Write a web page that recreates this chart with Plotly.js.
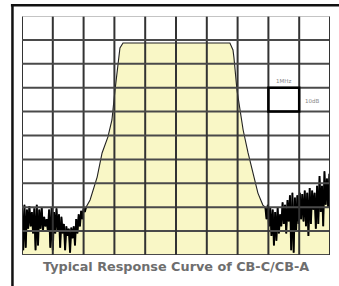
<!DOCTYPE html>
<html>
<head>
<meta charset="utf-8">
<script src="https://cdn.plot.ly/plotly-3.0.1.min.js"></script>
<style>html,body{margin:0;padding:0;background:#fff;}#chart{width:339px;height:286px;}</style>
</head>
<body>
<div id="chart"></div>
<script>
// Frequency in grid divisions (0..10), response in grid divisions (0..10, 10 dB/div)
var leftNoiseX = [0.00,0.04,0.08,0.12,0.16,0.20,0.24,0.28,0.32,0.36,0.40,0.44,0.48,0.52,0.56,0.60,0.64,0.68,0.72,0.76,0.80,0.84,0.88,0.92,0.96,1.00,1.04,1.08,1.12,1.16,1.20,1.24,1.28,1.32,1.36,1.40,1.44,1.48,1.52,1.56,1.60,1.64,1.68,1.72,1.76,1.80,1.84,1.88,1.92,1.96,2.00,2.04,2.08];
var leftNoiseY = [2.0,0.2,2.1,0.3,1.9,1.1,2.05,1.2,1.8,0.9,1.95,0.2,2.1,0.4,1.9,1.1,2.0,1.0,1.6,1.2,1.5,1.0,1.9,0.3,2.0,0.2,1.8,0.9,1.95,1.0,1.7,0.3,1.6,0.9,1.3,0.2,1.2,0.8,1.1,0.1,1.15,0.7,1.2,0.4,1.5,0.9,1.7,1.2,1.85,1.5,1.95,1.8,2.0];
var passbandX = [2.08,2.21,2.44,2.60,2.79,2.92,3.02,3.12,3.18,3.28,6.75,6.85,6.88,6.98,7.08,7.18,7.34,7.50,7.66,7.82,7.90];
var passbandY = [2.0,2.30,3.26,4.27,4.94,5.65,6.90,8.03,8.66,8.87,8.87,8.58,8.28,6.90,6.07,5.23,4.27,3.43,2.59,2.09,2.0];
var rightNoiseX = [7.90,7.94,7.98,8.02,8.06,8.10,8.14,8.18,8.22,8.26,8.30,8.34,8.38,8.42,8.46,8.50,8.54,8.58,8.62,8.66,8.70,8.74,8.78,8.82,8.86,8.90,8.94,8.98,9.02,9.06,9.10,9.14,9.18,9.22,9.26,9.30,9.34,9.38,9.42,9.46,9.50,9.54,9.58,9.62,9.66,9.70,9.74,9.78,9.82,9.86,9.90,9.94,9.98,10.0];
var rightNoiseY = [2.0,1.5,2.1,1.2,2.0,0.8,1.9,0.4,1.8,0.6,2.0,0.9,1.7,1.2,2.2,1.3,2.1,0.9,2.3,1.4,2.5,0.2,2.6,0.1,2.4,1.0,2.5,1.3,2.6,1.5,2.55,1.4,2.7,1.2,2.6,0.8,2.8,1.3,2.7,1.9,2.6,1.1,2.9,1.3,3.3,1.8,2.9,1.2,3.5,2.1,3.2,2.0,3.4,2.6];
var gridDivisions = [0,1,2,3,4,5,6,7,8,9,10];
var scaleLabelFreq = "1MHz";
var scaleLabelAmp = "10dB";
var caption = "Typical Response Curve of CB-C/CB-A";

var xs = leftNoiseX.concat(passbandX, rightNoiseX);
var ys = leftNoiseY.concat(passbandY, rightNoiseY);

var fillTrace = {
  x: xs, y: ys, type: 'scatter', mode: 'lines',
  fill: 'tozeroy', fillcolor: '#f9f7c6',
  line: {color: '#222', width: 1.1},
  hoverinfo: 'skip'
};
var leftNoise = {x: leftNoiseX, y: leftNoiseY, type:'scatter', mode:'lines',
  line:{color:'#000', width:1.9}, hoverinfo:'skip'};
var rightNoise = {x: rightNoiseX, y: rightNoiseY, type:'scatter', mode:'lines',
  line:{color:'#000', width:1.9}, hoverinfo:'skip'};

var shapes = [];
gridDivisions.forEach(function(g){
  shapes.push({type:'line', xref:'x', yref:'y', x0:g, x1:g, y0:0, y1:10, layer:'above',
    line:{color:'#333', width:2}});
  shapes.push({type:'line', xref:'x', yref:'y', x0:0, x1:10, y0:g, y1:g, layer:'above',
    line:{color: g === 10 ? '#b0b0b0' : '#4a4a4a', width: g === 10 ? 1.5 : 2}});
});
// scale legend box: one grid cell
shapes.push({type:'rect', xref:'x', yref:'y', x0:8, x1:9, y0:6, y1:7, layer:'above',
  line:{color:'#000', width:2.5}});
// outer frame (top and left)
shapes.push({type:'line', xref:'paper', yref:'paper', x0:-0.036, x1:1.03, y0:1.045, y1:1.045,
  line:{color:'#111', width:2.5}});
shapes.push({type:'line', xref:'paper', yref:'paper', x0:-0.031, x1:-0.031, y0:1.05, y1:-0.135,
  line:{color:'#111', width:2.5}});

var layout = {
  width: 339, height: 286,
  margin: {l:22, r:9, t:16, b:31, pad:0},
  paper_bgcolor: '#fff', plot_bgcolor: '#fff',
  showlegend: false,
  xaxis: {range:[0,10], showgrid:false, zeroline:false, showticklabels:false, ticks:'', showline:false, fixedrange:true},
  yaxis: {range:[0,10], showgrid:false, zeroline:false, showticklabels:false, ticks:'', showline:false, fixedrange:true},
  shapes: shapes,
  annotations: [
    {xref:'x', yref:'y', x:8.5, y:7.3, text:scaleLabelFreq, showarrow:false,
      font:{family:'DejaVu Sans', size:5.5, color:'#888'}},
    {xref:'x', yref:'y', x:9.4, y:6.45, text:scaleLabelAmp, showarrow:false,
      font:{family:'DejaVu Sans', size:5.5, color:'#888'}},
    {xref:'paper', yref:'paper', x:0.5016, y:-0.048, yanchor:'middle', xanchor:'center',
      text:'<b>' + caption + '</b>', showarrow:false,
      font:{family:'DejaVu Sans', size:12.8, color:'#6e6e6e'}}
  ]
};

Plotly.newPlot('chart', [fillTrace, leftNoise, rightNoise], layout, {displayModeBar:false, staticPlot:true});
</script>
</body>
</html>
